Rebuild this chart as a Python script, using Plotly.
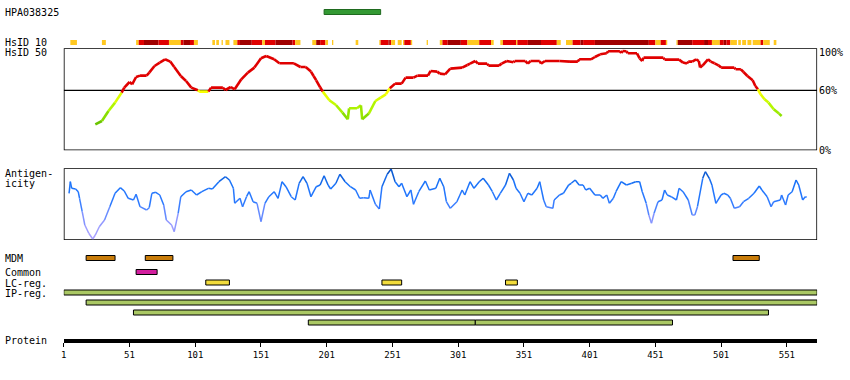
import plotly.graph_objects as go

W, H = 850, 380
PROTEIN_LENGTH = 574
TICK_RES = [1, 51, 101, 151, 201, 251, 301, 351, 401, 451, 501, 551]

# HsID 50 profile: residue, % identity
hs50_res = [25, 30, 35, 40, 45, 47, 51, 53, 56, 59, 64, 66, 70, 74, 78, 82, 85, 90, 94, 98,
            103, 104, 111, 113, 122, 124, 128, 131, 136, 141, 146, 151, 155, 161, 165, 176,
            181, 185, 189, 191, 193, 196, 198, 203, 208, 213, 217, 218, 224, 227, 228, 233,
            238, 242, 246, 249, 253, 258, 261, 267, 270, 278, 280, 285, 287, 291, 295, 304,
            308, 310, 314, 316, 323, 324, 332, 334, 338, 343, 344, 352, 354, 356, 363, 364,
            367, 378, 386, 392, 393, 402, 405, 409, 414, 415, 424, 425, 426, 429, 430, 437,
            439, 441, 442, 457, 458, 469, 472, 475, 476, 479, 482, 484, 485, 487, 491, 493,
            496, 499, 501, 511, 512, 516, 518, 521, 525, 527, 529, 531, 534, 537, 541, 545, 547]
hs50_val = [26, 29.3, 39.3, 47.7, 57.7, 62.7, 68.3, 66, 73.3, 74.7, 74.7, 77.7, 84.3, 87.7, 91, 88.7, 83.3, 74.3, 69.3, 62.7,
            60, 58.7, 58.7, 62.7, 62.7, 60.3, 63.3, 61, 71, 77.7, 82.7, 92, 94.3, 91, 87, 87,
            83.3, 83.3, 78.7, 74.3, 70, 63, 58.7, 50, 45.3, 37.7, 31, 42, 42, 45, 31, 36.7,
            49.3, 52.7, 56, 62, 66.7, 66.7, 72.7, 72.7, 74.7, 74.7, 79.3, 78.7, 76.7, 76, 81.7, 82.7,
            85.3, 86.7, 89.3, 86.7, 86.7, 84.7, 84.7, 86.7, 89.3, 88, 89.3, 89.3, 86.7, 89.3, 89.3, 86.7,
            89.3, 89.3, 88.7, 88.7, 91, 91, 93.3, 96, 97, 99, 99, 97.3, 99.3, 99, 97, 97,
            92, 89.3, 92.7, 92.7, 90.7, 90.7, 87.7, 86.7, 88.7, 88.7, 91, 89.3, 82.7, 85, 91, 88.7,
            87, 85, 82.7, 82.7, 81, 81, 78.3, 74.3, 70, 64.3, 61, 56, 51, 47.7, 41, 36.7, 34.3]

# Antigenicity profile: residue, score
ag_res = [5, 6, 7, 10, 12, 13, 15, 17, 20, 23, 25, 28, 32, 36, 40, 44, 47, 50, 54, 56, 59, 64, 66, 68,
          71, 74, 77, 79, 83, 85, 88, 90, 94, 98, 102, 106, 111, 114, 119, 124, 127, 130, 131, 135,
          137, 140, 142, 145, 148, 151, 154, 157, 161, 164, 167, 170, 174, 177, 180, 183, 186, 189,
          193, 196, 199, 202, 204, 208, 211, 215, 219, 223, 226, 229, 233, 234, 238, 241, 243, 247,
          250, 253, 256, 258, 262, 265, 267, 271, 276, 279, 284, 287, 290, 292, 295, 300, 304, 306,
          310, 313, 317, 320, 324, 327, 330, 333, 337, 340, 343, 345, 348, 351, 354, 357, 361, 363,
          366, 368, 373, 374, 378, 381, 385, 387, 390, 393, 396, 398, 401, 405, 409, 411, 414, 416,
          419, 421, 425, 429, 433, 436, 439, 441, 444, 446, 448, 450, 453, 456, 458, 460, 463, 467,
          469, 472, 476, 479, 481, 483, 487, 489, 492, 494, 497, 501, 503, 506, 508, 511, 515, 518,
          522, 526, 530, 532, 536, 539, 541, 546, 547, 550, 552, 555, 558, 560, 563, 565, 566]
ag_val = [46.7, 58.3, 51.7, 51, 48.3, 41.7, 28.3, 15, 6.7, 1, 5, 13.3, 20, 33.3, 46.7, 52.3, 49, 41.7, 40, 45.7, 33.3, 30, 32.3, 46.7,
          47.7, 45, 35, 20, 15, 8.3, 26.7, 43.3, 48.3, 50, 45, 48.3, 51.7, 51, 58.3, 63.3, 60, 51.7, 36.7, 41.7,
          33.3, 43.3, 48.3, 38.3, 36.7, 18.3, 36.7, 43.3, 48.3, 41.7, 58.3, 53.3, 43.3, 40, 56.7, 63.3, 56.7, 43.3,
          53.3, 55, 64.3, 55, 51, 56.7, 65.7, 58.3, 53.3, 50, 41.7, 42.3, 41.7, 50, 35.7, 31, 53.3, 65.7,
          71, 58.3, 53.3, 56.7, 43.3, 50, 35.7, 48.3, 59, 50, 51.7, 61.7, 53.3, 38.3, 31.7, 38.3, 50, 45,
          58.3, 51.7, 58.3, 61.7, 55, 48.3, 40, 46.7, 55, 66.7, 60, 51.7, 46.7, 38.3, 46.7, 45, 51.7, 58.3,
          40, 33.3, 31.7, 40, 45, 46.7, 55, 56.7, 60, 55, 55, 50, 51.7, 45, 45, 41.7, 45, 36.7,
          41.7, 48.3, 58.3, 55, 56.7, 58.3, 58.3, 48.3, 36.7, 25, 16.7, 26.7, 38.3, 40, 50, 45, 43.3, 40,
          51.7, 48.3, 40, 25, 25, 33.3, 61.7, 68.3, 61.7, 55, 36.7, 45, 46.7, 45, 41.7, 31.7, 33.3, 38.3,
          41.7, 46.7, 54, 50, 43.3, 33.3, 38.3, 40, 45, 35, 45, 48.3, 60, 55, 40, 43.3, 42.7]

# HsID 10 blocks: start, end, level (1 = low, 2 = mid, 3 = high)
hs10_start = [6, 30, 56, 58, 62, 73, 81, 90, 92, 97, 100, 114, 117, 121, 124, 130, 133, 135, 144, 152,
              154, 162, 175, 177, 190, 193, 196, 200, 205, 223, 241, 242, 248, 249, 250, 255, 259, 260,
              265, 277, 287, 289, 293, 303, 308, 317, 326, 333, 335, 345, 346, 354, 364, 376, 383, 388,
              394, 396, 405, 446, 451, 455, 459, 467, 468, 479, 488, 491, 494, 500, 503, 505, 508, 514,
              517, 521, 525, 531, 533, 541]
hs10_end = [11, 33, 58, 62, 73, 81, 90, 92, 97, 100, 103, 116, 119, 122, 127, 133, 135, 144, 152, 154,
            162, 175, 177, 181, 193, 196, 200, 202, 206, 225, 242, 248, 249, 250, 253, 258, 260, 265,
            266, 278, 289, 293, 303, 308, 317, 326, 328, 335, 345, 346, 354, 364, 376, 379, 388, 394,
            396, 405, 446, 451, 455, 459, 460, 468, 479, 488, 491, 494, 500, 503, 505, 508, 513, 516,
            520, 524, 531, 533, 538, 543]
hs10_level = [1, 1, 1, 2, 3, 2, 1, 2, 3, 2, 1, 1, 1, 1, 1, 1, 2, 3, 2, 1,
              2, 3, 2, 1, 1, 3, 2, 1, 1, 1, 1, 2, 3, 2, 1, 1, 1, 2,
              1, 1, 1, 2, 3, 2, 1, 2, 1, 1, 2, 1, 2, 3, 2, 1, 1, 2,
              3, 2, 3, 2, 1, 2, 1, 1, 3, 2, 3, 2, 1, 2, 3, 2, 1, 1,
              1, 1, 1, 2, 1, 1]

# Feature tracks: start, end
antigen_name = "HPA038325"
antigen_start, antigen_end = 199, 242
mdm_start, mdm_end = [18, 63, 510], [40, 84, 530]
common_start, common_end = [56], [72]
lc_start, lc_end = [109, 243, 337], [127, 258, 346]
ip_start = [1, 18, 54, 187, 314]
ip_end = [574, 574, 537, 314, 464]
ip_row = [0, 1, 2, 3, 3]

# ---------------------------------------------------------------------------
FONT = "DejaVu Sans Mono"
XD = [61 / W, 817 / W]


def py(px):
    return 1 - px / H


def lerp_color(stops, v):
    if v <= stops[0][0]:
        c = stops[0][1]
    elif v >= stops[-1][0]:
        c = stops[-1][1]
    else:
        for (v0, c0), (v1, c1) in zip(stops[:-1], stops[1:]):
            if v0 <= v <= v1:
                t = (v - v0) / (v1 - v0)
                c = tuple(a + (b - a) * t for a, b in zip(c0, c1))
                break
    return "rgb(%d,%d,%d)" % tuple(round(x) for x in c)


def hs_color(v):
    if v >= 60:
        return "#E00000"
    return lerp_color([(25, (95, 185, 0)), (35, (140, 225, 0)), (45, (185, 250, 0)),
                       (60, (255, 255, 0))], v)


def ag_color(v):
    return lerp_color([(0, (176, 164, 255)), (20, (140, 150, 255)), (38, (45, 122, 255)),
                       (56, (25, 115, 250)), (72, (0, 70, 180))], v)


fig = go.Figure()

for i in range(len(hs50_res) - 1):
    m = (hs50_val[i] + hs50_val[i + 1]) / 2
    fig.add_trace(go.Scatter(x=hs50_res[i:i + 2], y=hs50_val[i:i + 2], mode="lines",
                             line=dict(color=hs_color(m), width=2.6), hoverinfo="skip",
                             xaxis="x", yaxis="y"))

for i in range(len(ag_res) - 1):
    m = (ag_val[i] + ag_val[i + 1]) / 2
    fig.add_trace(go.Scatter(x=ag_res[i:i + 2], y=ag_val[i:i + 2], mode="lines",
                             line=dict(color=ag_color(m), width=1.5), hoverinfo="skip",
                             xaxis="x", yaxis="y2"))

shapes = []
# panel frames
shapes.append(dict(type="rect", xref="x", yref="y", x0=1, x1=PROTEIN_LENGTH, y0=0, y1=102,
                   line=dict(color="black", width=1.6), fillcolor="rgba(0,0,0,0)", layer="below"))
shapes.append(dict(type="line", xref="x", yref="y", x0=1, x1=PROTEIN_LENGTH, y0=60, y1=60,
                   line=dict(color="black", width=1.2), layer="below"))
shapes.append(dict(type="rect", xref="x", yref="y2", x0=1, x1=PROTEIN_LENGTH, y0=0, y1=71.7,
                   line=dict(color="black", width=1.6), fillcolor="rgba(0,0,0,0)", layer="below"))

# HsID 10 blocks
lvl_col = {1: "#FFC820", 2: "#E00000", 3: "#A00000"}
for s, e, l in zip(hs10_start, hs10_end, hs10_level):
    shapes.append(dict(type="rect", xref="x", yref="paper", x0=s, x1=e, y0=py(45), y1=py(40),
                       fillcolor=lvl_col[l], line=dict(width=0)))


def bar(s, e, yc, fill, border="black", h=5):
    shapes.append(dict(type="rect", xref="x", yref="paper", x0=s, x1=e,
                       y0=py(yc + h / 2), y1=py(yc - h / 2), fillcolor=fill,
                       line=dict(color=border, width=1)))


bar(antigen_start, antigen_end, 12, "#339933", border="#1F6A1F")
for s, e in zip(mdm_start, mdm_end):
    bar(s, e, 258, "#C87C0A")
for s, e in zip(common_start, common_end):
    bar(s, e, 272, "#D21E9E")
for s, e in zip(lc_start, lc_end):
    bar(s, e, 282.5, "#F2DC3C")
for s, e, r in zip(ip_start, ip_end, ip_row):
    bar(s, e, 292.5 + 10 * r, "#AAC864")

annotations = []


def label(text, xpx, ypx, anchor="left", size=10):
    annotations.append(dict(text=text, xref="paper", yref="paper", x=xpx / W, y=py(ypx),
                            xanchor=anchor, yanchor="middle", showarrow=False, borderpad=0,
                            font=dict(family=FONT, size=size, color="black")))


label(antigen_name, 1, 12.5)
label("HsID 10", 1, 42.5)
label("HsID 50", 1, 53)
label("Antigen-", 1, 173.5)
label("icity", 1, 183.5)
label("MDM", 1, 258)
label("Common", 1, 272.5)
label("LC-reg.", 1, 283)
label("IP-reg.", 1, 293)
label("Protein", 1, 340.5)
label("100%", 818, 52.5)
label("60%", 818, 91)
label("0%", 818, 150)

fig.update_layout(
    width=W, height=H, margin=dict(l=0, r=0, t=0, b=0),
    paper_bgcolor="white", plot_bgcolor="rgba(0,0,0,0)", showlegend=False,
    shapes=shapes, annotations=annotations,
    xaxis=dict(domain=XD, range=[1, PROTEIN_LENGTH], anchor="free", position=(H - 341) / H,
               showline=True, linewidth=4, linecolor="black", mirror=False,
               ticks="outside", ticklen=4, tickwidth=1, tickcolor="black",
               tickvals=TICK_RES, ticktext=[str(t) for t in TICK_RES],
               tickfont=dict(family=FONT, size=9, color="black"),
               showgrid=False, zeroline=False, fixedrange=True),
    yaxis=dict(domain=[(H - 150.3) / H, (H - 48.3) / H], range=[0, 102], visible=False,
               anchor="x", fixedrange=True),
    yaxis2=dict(domain=[(H - 240) / H, (H - 168.3) / H], range=[0, 71.7], visible=False,
                anchor="x", fixedrange=True),
)

fig.write_html("out.html", config={"displayModeBar": False},
               post_script="document.body.style.margin='0px';document.body.style.padding='0px';")
